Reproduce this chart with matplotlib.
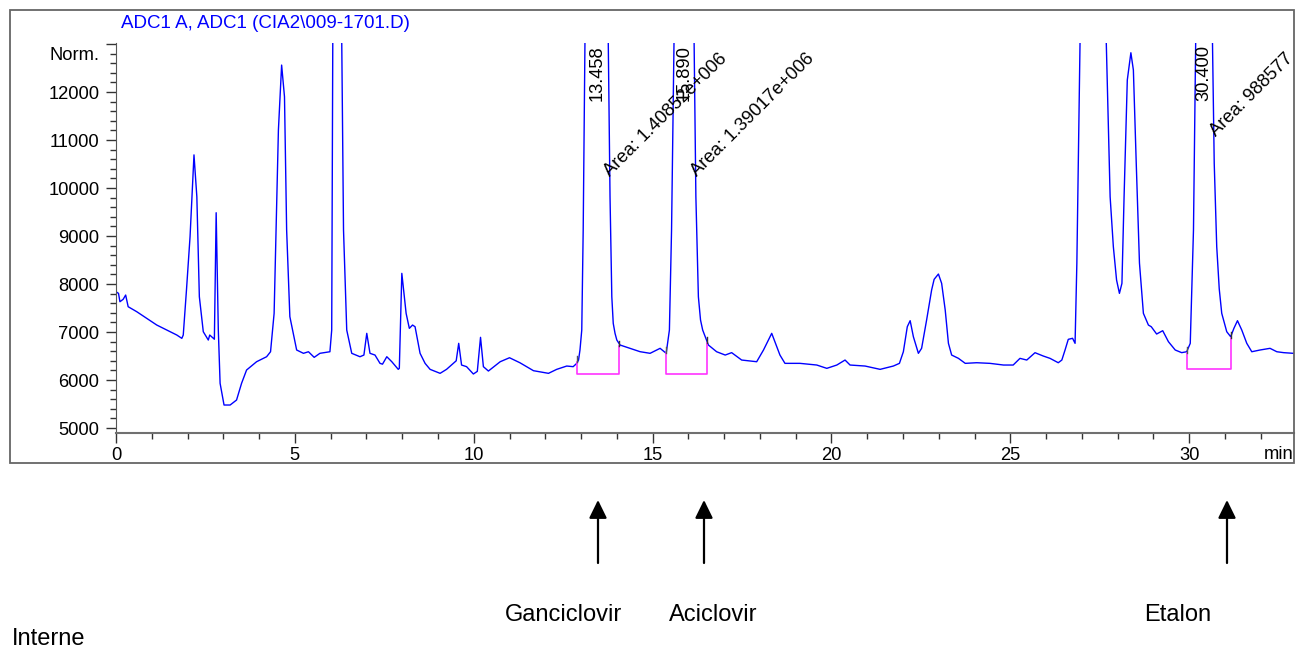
import matplotlib
matplotlib.use("Agg")
import matplotlib.pyplot as plt
from matplotlib.patches import Rectangle
from matplotlib.ticker import MultipleLocator
import matplotlib.transforms as mtransforms

plt.rcParams['font.family'] = ['Liberation Sans', 'DejaVu Sans']

# Chromatogramme ADC1 A - temps (min) et signal (Norm.)
time_min = [0.00, 0.07, 0.11, 0.20, 0.27, 0.34, 0.58, 0.86, 1.14, 1.42, 1.70, 1.84, 1.88,
            1.97, 2.07, 2.18, 2.26, 2.33, 2.44, 2.58, 2.62, 2.72, 2.75, 2.80, 2.86, 2.91,
            3.02, 3.19, 3.37, 3.51, 3.65, 3.93, 4.21, 4.32, 4.42, 4.54, 4.63, 4.71, 4.77,
            4.86, 5.05, 5.24, 5.38, 5.54, 5.70, 5.98, 6.03, 6.06, 6.19, 6.31, 6.36, 6.45,
            6.59, 6.82, 6.93, 7.01, 7.10, 7.24, 7.38, 7.45, 7.57, 7.71, 7.89, 7.92, 7.99,
            8.11, 8.20, 8.29, 8.36, 8.50, 8.64, 8.78, 9.06, 9.24, 9.43, 9.51, 9.58, 9.66,
            9.80, 9.99, 10.10, 10.19, 10.27, 10.41, 10.74, 11.00, 11.29, 11.67, 12.09, 12.32,
            12.60, 12.78, 12.88, 12.93, 12.97, 13.02, 13.06, 13.11, 13.46, 13.76, 13.81, 13.86,
            13.90, 13.95, 14.00, 14.09, 14.37, 14.65, 14.93, 15.21, 15.38, 15.47, 15.53, 15.60,
            15.89, 16.16, 16.21, 16.28, 16.34, 16.40, 16.56, 16.79, 17.03, 17.21, 17.49, 17.91,
            18.10, 18.33, 18.56, 18.70, 19.12, 19.59, 19.87, 20.15, 20.38, 20.52, 20.94, 21.36,
            21.73, 21.90, 22.01, 22.12, 22.20, 22.29, 22.43, 22.52, 22.66, 22.80, 22.87,
            22.99, 23.08, 23.18, 23.27, 23.36, 23.55, 23.74, 24.06, 24.43, 24.81, 25.08,
            25.27, 25.46, 25.69, 25.92, 26.11, 26.34, 26.44, 26.53, 26.62, 26.74, 26.81,
            26.86, 26.95, 27.30, 27.68, 27.79, 27.88, 27.97, 28.05, 28.12, 28.18, 28.27,
            28.37, 28.44, 28.52, 28.61, 28.72, 28.86, 28.94, 29.09, 29.26, 29.42, 29.61,
            29.79, 29.93, 30.03, 30.12, 30.18, 30.40, 30.65, 30.70, 30.77, 30.84, 30.91, 31.05,
            31.16, 31.25, 31.35, 31.47, 31.61, 31.75, 31.98, 32.26, 32.45, 32.64, 32.91]
signal = [7839, 7805, 7631, 7681, 7770, 7527, 7423, 7285, 7145, 7041, 6937, 6868, 6937,
          7875, 8985, 10690, 9818, 7735, 7006, 6833, 6937, 6868, 6850, 9485, 7041, 5931,
          5479, 5479, 5583, 5931, 6208, 6381, 6485, 6589, 7389, 11207, 12561, 11900, 9125,
          7320, 6625, 6556, 6589, 6472, 6556, 6589, 7041, 13100, 20000, 13100, 9125, 7041,
          6556, 6485, 6520, 6972, 6556, 6520, 6347, 6330, 6485, 6381, 6222, 6243, 8222,
          7389, 7076, 7145, 7110, 6556, 6347, 6222, 6139, 6222, 6347, 6400, 6764, 6312,
          6278, 6125, 6180, 6889, 6278, 6187, 6381, 6464, 6360, 6194, 6139, 6222,
          6291, 6278, 6347, 6416, 6625, 7041, 9125, 13100, 30000, 13100, 9818, 7735,
          7180, 6972, 6833, 6729, 6660, 6590, 6556, 6660, 6556, 7041, 9125, 13100,
          30000, 13100, 9818, 7735, 7250, 7041, 6729, 6589, 6520, 6570, 6416, 6381,
          6625, 6972, 6520, 6347, 6347, 6312, 6243, 6312, 6416, 6312, 6291, 6222,
          6291, 6347, 6589, 7110, 7236, 6902, 6556, 6660, 7250, 7875, 8097,
          8208, 8014, 7458, 6764, 6520, 6451, 6347, 6360, 6347, 6312, 6312,
          6451, 6416, 6569, 6500, 6451, 6360, 6416, 6625, 6847, 6869, 6764,
          8437, 13100, 40000, 13100, 9818, 8777, 8083, 7805, 8014, 9818, 12250,
          12818, 12458, 10514, 8437, 7389, 7145, 7110, 6958, 7027, 6798, 6625,
          6570, 6589, 6764, 9125, 13100, 25000, 13100, 10514, 8777, 7900, 7389, 7006,
          6902, 7076, 7236, 7041, 6764, 6589, 6625, 6660, 6589, 6570, 6556]

# Pics integres
peak_rt = [13.458, 15.890, 30.400]
peak_area = ["1.40852e+006", "1.39017e+006", "988577"]
base_start = [12.89, 15.38, 29.94]
base_end = [14.06, 16.52, 31.16]
base_level = [6130, 6130, 6229]
base_left_top = [6375, 6562, 6562]
base_right_top = [6700, 6771, 6875]

# Annotations sous le graphe
compound_names = ["Ganciclovir", "Aciclovir", "Etalon"]


def plot_chromatogram():
    fig = plt.figure(figsize=(12.96, 6.51), dpi=100)
    W, H = 1296, 651

    # cadre gris autour du graphe
    fig.add_artist(Rectangle((10 / W, 1 - 463 / H), (1294 - 10) / W, (463 - 10) / H,
                             transform=fig.transFigure, fill=False, edgecolor='#666666', lw=1.3))

    ax = fig.add_axes([116 / W, 1 - 433 / H, (1294 - 116) / W, (433 - 43) / H])
    ax.plot(time_min, signal, color='#0000ff', lw=1.0)

    # lignes de base (magenta)
    for i in range(len(peak_rt)):
        ax.plot([base_start[i], base_start[i], base_end[i], base_end[i]],
                [base_left_top[i], base_level[i], base_level[i], base_right_top[i]],
                color='#ff33ff', lw=1.2)
        ax.plot([base_start[i], base_start[i]], [base_left_top[i], base_left_top[i] + 120],
                color='#555555', lw=1.0)
        ax.plot([base_end[i], base_end[i]], [base_right_top[i], base_right_top[i] + 120],
                color='#333333', lw=1.0)

    ax.set_xlim(0, 32.93)
    ax.set_ylim(4896, 13021)

    for s in ['top', 'right']:
        ax.spines[s].set_visible(False)
    ax.spines['left'].set_color('#555555')
    ax.spines['bottom'].set_color('#707070')
    ax.spines['bottom'].set_linewidth(1.5)

    ax.set_yticks(range(5000, 13001, 1000))
    ax.set_yticklabels([str(v) for v in range(5000, 13000, 1000)] + [''])
    ax.yaxis.set_minor_locator(MultipleLocator(200))
    ax.set_xticks(range(0, 31, 5))
    ax.xaxis.set_minor_locator(MultipleLocator(1))
    ax.tick_params(which='major', length=7, width=1, labelsize=13.2, color='#333333')
    ax.tick_params(which='minor', length=4, width=1, color='#333333')
    ax.tick_params(axis='y', which='major', pad=5)
    ax.tick_params(axis='x', which='major', pad=3)

    ax.text(-0.014, 12760, "Norm.", transform=mtransforms.blended_transform_factory(ax.transAxes, ax.transData),
            ha='right', va='center', fontsize=13.2)
    ax.text(1.0, -0.055, "min", transform=ax.transAxes, ha='right', va='center', fontsize=13.2)
    fig.text(121 / W, 1 - 23 / H, r"ADC1 A, ADC1 (CIA2\009-1701.D)", color='#0000ff',
             fontsize=13.5, ha='left', va='center')

    # temps de retention et aires
    tr = mtransforms.blended_transform_factory(ax.transData, ax.transAxes)
    area_y = [10229, 10229, 11068]
    for i, rt in enumerate(peak_rt):
        ax.text(rt, 0.995, f"{rt:.3f}", transform=tr, rotation=90, ha='center', va='top',
                fontsize=13.2)
        ax.text(rt + 0.36, area_y[i], "Area: " + peak_area[i], rotation=45,
                rotation_mode='anchor', ha='left', va='baseline', fontsize=13.2, clip_on=False)

    # fleches et noms des composes
    arrow_x = [598, 704, 1227]
    name_x = [563, 713, 1178]
    for i in range(3):
        ax.annotate('', xy=(arrow_x[i], H - 500), xytext=(arrow_x[i], H - 563),
                    xycoords='figure pixels', textcoords='figure pixels',
                    arrowprops=dict(arrowstyle='-|>,head_length=0.55,head_width=0.27',
                                    mutation_scale=20, color='black', lw=1.6,
                                    shrinkA=0, shrinkB=0))
        fig.text(name_x[i] / W, 1 - 615 / H, compound_names[i], ha='center', va='center',
                 fontsize=17)
    fig.text(12 / W, 1 - 639 / H, "Interne", ha='left', va='center', fontsize=17)

    fig.savefig("out.png", dpi=100)


plot_chromatogram()
